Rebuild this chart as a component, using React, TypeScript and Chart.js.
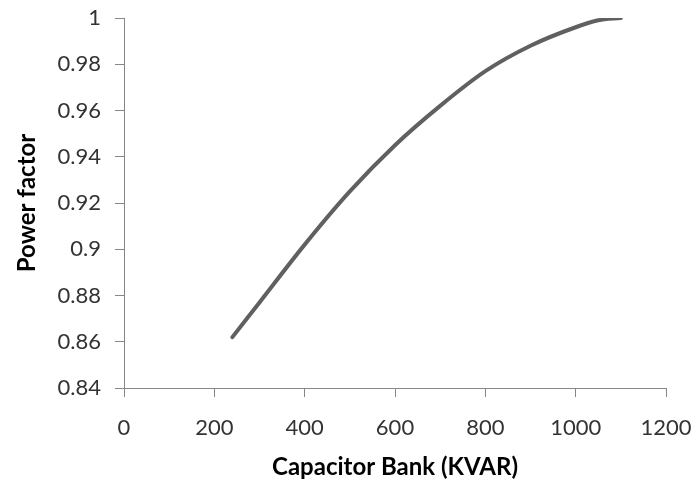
import React, { useEffect, useRef } from "react";
import { Chart, registerables } from "chart.js";

Chart.register(...registerables);

const capacitorKvar = [240, 300, 400, 500, 600, 700, 800, 900, 1000, 1050, 1100];
const powerFactor = [0.862, 0.877, 0.902, 0.925, 0.945, 0.962, 0.977, 0.988, 0.996, 0.999, 1.0];
const xTitle = "Capacitor Bank (KVAR)";
const yTitle = "Power factor";

export default function App() {
  const ref = useRef<HTMLCanvasElement>(null);
  useEffect(() => {
    if (!ref.current) return;
    const chart = new Chart(ref.current, {
      type: "line",
      data: {
        datasets: [
          {
            data: capacitorKvar.map((x, i) => ({ x, y: powerFactor[i] })),
            borderColor: "#606060",
            borderWidth: 4,
            pointRadius: 0,
            tension: 0.4,
            cubicInterpolationMode: "monotone",
            borderCapStyle: "round",
            fill: false,
          },
        ],
      },
      options: {
        animation: false,
        responsive: false,
        layout: { padding: { top: 18, right: 31, left: 0, bottom: 0 } },
        plugins: { legend: { display: false }, tooltip: { enabled: false } },
        scales: {
          x: {
            type: "linear",
            min: 0,
            max: 1200,
            ticks: {
              stepSize: 200,
              color: "#333",
              font: { family: "Lato", size: 22 },
              padding: 18,
              maxRotation: 0,
              callback: (v: any) => String(v),
            },
            grid: { drawOnChartArea: false, drawTicks: true, tickLength: 9, color: "#868686" },
            border: { color: "#868686", width: 1 },
            title: {
              display: true,
              text: xTitle,
              color: "#000",
              font: { family: "Lato", size: 24, weight: "bold" },
              padding: { top: 10, bottom: 4 },
            },
            afterFit: (s: any) => {
              s.height = 98;
              s.paddingLeft = 0;
              s.paddingRight = 0;
            },
          },
          y: {
            type: "linear",
            min: 0.84,
            max: 1,
            ticks: {
              stepSize: 0.02,
              color: "#333",
              font: { family: "Lato", size: 22 },
              padding: 14,
              callback: (v: any) => Number(Number(v).toFixed(2)).toString(),
            },
            grid: { drawOnChartArea: false, drawTicks: true, tickLength: 9, color: "#868686" },
            border: { color: "#868686", width: 1 },
            title: {
              display: true,
              text: yTitle,
              color: "#000",
              font: { family: "Lato", size: 24, weight: "bold" },
              padding: { top: 13, bottom: 0 },
            },
            afterFit: (s: any) => {
              s.width = 124;
              s.paddingTop = 0;
              s.paddingBottom = 0;
            },
          },
        },
      },
    });
    return () => chart.destroy();
  }, []);
  return (
    <div style={{ position: "absolute", left: 0, top: 0, width: 697, height: 486, background: "#fff" }}>
      <canvas ref={ref} width={697} height={486} style={{ width: 697, height: 486 }} />
    </div>
  );
}
